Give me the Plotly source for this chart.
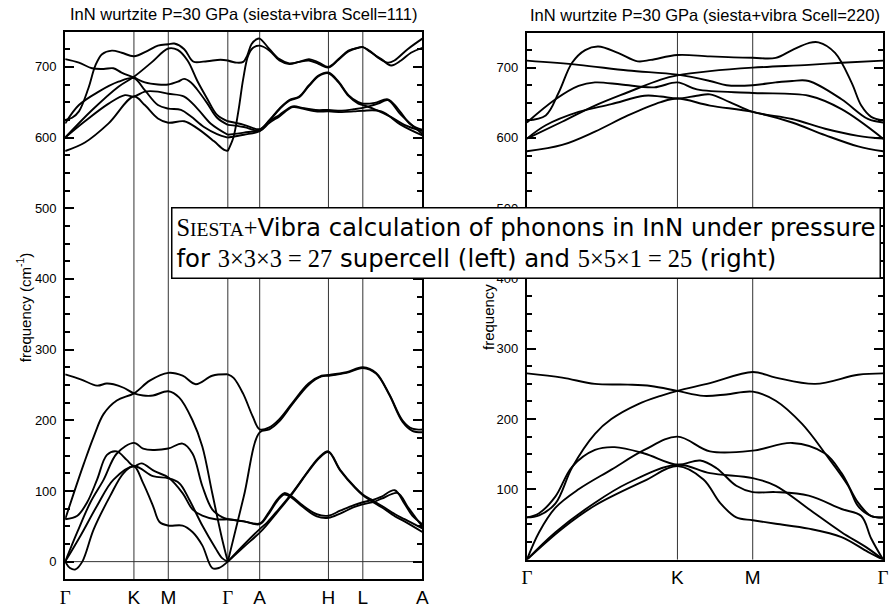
import plotly.graph_objects as go

# ---------------- data ----------------
left_tick_k = [0.0, 1.0, 1.5, 2.366, 2.830, 3.830, 4.330, 5.196]
left_tick_text = ["Γ", "K", "M", "Γ", "A", "H", "L", "A"]
right_tick_k = [0.0, 1.0, 1.5, 2.366]
right_tick_text = ["Γ", "K", "M", "Γ"]
left_freq_ticks = [0, 100, 200, 300, 400, 500, 600, 700]
right_freq_ticks = [100, 200, 300, 400, 500, 600, 700]

left_title = "InN wurtzite P=30 GPa (siesta+vibra Scell=111)"
right_title = "InN wurtzite P=30 GPa (siesta+vibra Scell=220)"
y_title = "frequency (cm<sup>-1</sup>)"

# Left panel, Γ-K-M-Γ, optical bands (k, frequency)
lgh1 = [(0, 711), (0.2, 706), (0.39, 698), (0.56, 697), (0.70, 698), (0.82, 692), (1.0, 685), (1.16, 678), (1.35, 675), (1.5, 675), (1.64, 679), (1.73, 683), (1.83, 678), (1.92, 668), (2.07, 648), (2.21, 628), (2.366, 618)]
lgh2 = [(0, 625), (0.1, 628), (0.2, 637), (0.335, 669), (0.44, 702), (0.536, 718), (0.68, 723), (0.823, 720), (1.0, 715), (1.205, 723), (1.349, 730), (1.5, 732), (1.588, 733), (1.732, 725), (1.827, 711), (1.875, 707), (2.066, 708), (2.258, 710), (2.366, 709)]
lgh3 = [(0, 600), (0.392, 639), (0.775, 672), (1.0, 686), (1.253, 706), (1.5, 726), (1.636, 724), (1.78, 709), (1.923, 680), (2.066, 655), (2.21, 632), (2.366, 623)]
lgh4 = [(0, 620), (0.2, 646), (0.488, 665), (0.775, 679), (1.0, 684), (1.158, 667), (1.349, 646), (1.5, 641), (1.684, 639), (1.827, 630), (2.019, 615), (2.21, 605), (2.366, 600)]
lgh5 = [(0, 600), (0.287, 623), (0.632, 648), (0.87, 660), (1.0, 658), (1.158, 665), (1.349, 665), (1.5, 662), (1.732, 658), (1.923, 641), (2.115, 620), (2.366, 604)]
lgh6 = [(0, 581), (0.287, 593), (0.632, 620), (1.0, 658), (1.158, 646), (1.349, 627), (1.5, 621), (1.732, 623), (1.923, 613), (2.162, 595), (2.306, 583), (2.366, 581)]

# Left panel, Γ-K-M-Γ, acoustic / low optical bands
lgl1 = [(0, 265), (0.225, 258), (0.464, 249), (0.60, 252), (0.703, 251), (0.85, 246), (1.0, 238), (1.134, 235), (1.277, 235), (1.5, 241), (1.66, 232), (1.852, 200), (1.995, 163), (2.139, 97), (2.283, 32), (2.366, 0)]
lgl2 = [(0, 60), (0.129, 98), (0.273, 139), (0.416, 177), (0.56, 209), (0.751, 228), (1.0, 238), (1.23, 256), (1.5, 267), (1.708, 263), (1.9, 251), (2.139, 263), (2.366, 265)]
lgl3 = [(0, 60), (0.177, 65), (0.32, 84), (0.464, 116), (0.608, 151), (0.751, 156), (0.895, 144), (1.0, 135), (1.11, 139), (1.3, 128), (1.5, 119), (1.708, 97), (1.852, 74), (1.995, 65), (2.187, 60), (2.366, 60)]
lgl4 = [(0, 0), (0.177, 42), (0.368, 84), (0.56, 116), (0.751, 153), (1.0, 168), (1.134, 160), (1.277, 158), (1.5, 160), (1.708, 167), (1.852, 153), (1.995, 107), (2.139, 74), (2.283, 63), (2.366, 60)]
lgl5 = [(0, 0), (0.225, 37), (0.464, 79), (0.703, 116), (1.0, 135), (1.277, 121), (1.5, 118), (1.66, 111), (1.804, 88), (1.995, 51), (2.187, 19), (2.283, 5), (2.366, 0)]
lgl6 = [(0, 0), (0.07, -9), (0.15, -11), (0.249, 0), (0.416, 46), (0.655, 93), (0.847, 125), (1.0, 135), (1.134, 111), (1.277, 79), (1.373, 56), (1.5, 51), (1.708, 51), (1.852, 42), (1.995, 23), (2.139, -9), (2.235, -9), (2.366, 0)]

# Left panel, Γ-A-H-L-A, optical bands
lah1 = [(2.366, 709), (2.495, 706), (2.59, 707), (2.648, 716), (2.71, 732), (2.782, 739), (2.83, 740), (2.973, 725), (3.117, 711), (3.26, 705), (3.404, 707), (3.547, 711), (3.691, 706), (3.83, 700), (3.977, 711), (4.121, 723), (4.264, 727), (4.33, 728), (4.44, 722), (4.551, 713), (4.695, 706), (4.79, 709), (4.982, 725), (5.196, 740)]
lah2 = [(2.366, 581), (2.447, 600), (2.519, 637), (2.59, 683), (2.662, 716), (2.734, 727), (2.83, 730), (2.973, 723), (3.117, 709), (3.26, 704), (3.404, 707), (3.547, 709), (3.691, 704), (3.83, 699), (3.977, 710), (4.121, 722), (4.264, 727), (4.33, 728), (4.44, 721), (4.599, 711), (4.743, 702), (4.886, 709), (5.03, 720), (5.196, 727)]
lah3 = [(2.366, 623), (2.6, 618), (2.83, 612), (2.973, 625), (3.117, 641), (3.26, 653), (3.404, 658), (3.547, 674), (3.691, 688), (3.83, 692), (3.977, 679), (4.121, 660), (4.264, 650), (4.33, 648), (4.503, 649), (4.695, 654), (4.838, 641), (5.03, 618), (5.196, 611)]
lah4 = [(2.366, 618), (2.6, 615), (2.83, 610), (2.973, 624), (3.117, 640), (3.26, 652), (3.404, 657), (3.547, 673), (3.691, 687), (3.83, 691), (3.977, 678), (4.121, 659), (4.264, 648), (4.33, 646), (4.503, 640), (4.743, 629), (4.934, 618), (5.196, 609)]
lah5 = [(2.366, 604), (2.6, 607), (2.83, 611), (2.973, 623), (3.117, 632), (3.308, 644), (3.452, 642), (3.643, 639), (3.83, 639), (4.025, 638), (4.2, 640), (4.33, 642), (4.551, 648), (4.695, 653), (4.886, 632), (5.196, 605)]
lah6 = [(2.366, 600), (2.6, 604), (2.83, 609), (2.973, 621), (3.117, 630), (3.308, 643), (3.452, 641), (3.643, 637), (3.83, 637), (4.025, 636), (4.2, 637), (4.33, 638), (4.599, 637), (4.886, 618), (5.196, 603)]

# Left panel, Γ-A-H-L-A, acoustic / low optical bands
lal1 = [(2.366, 265), (2.45, 260), (2.587, 238), (2.73, 205), (2.83, 187), (2.97, 190), (3.11, 201), (3.30, 224), (3.54, 252), (3.73, 263), (3.83, 264), (4.092, 268), (4.33, 275), (4.523, 267), (4.715, 237), (4.906, 200), (5.05, 188), (5.196, 187)]
lal2 = [(2.366, 0), (2.598, 92), (2.83, 183), (2.97, 187), (3.11, 198), (3.30, 222), (3.54, 250), (3.73, 262), (3.83, 263), (4.092, 267), (4.33, 274), (4.523, 266), (4.715, 236), (4.906, 198), (5.05, 185), (5.196, 183)]
lal3 = [(2.366, 60), (2.6, 57), (2.83, 54), (2.95, 68), (3.087, 88), (3.189, 97), (3.3, 92), (3.45, 80), (3.661, 67), (3.83, 65), (4.0, 72), (4.2, 80), (4.33, 84), (4.5, 88), (4.603, 92), (4.794, 101), (4.937, 82), (5.05, 65), (5.196, 53)]
lal4 = [(2.366, 60), (2.6, 57), (2.83, 53), (2.95, 66), (3.087, 86), (3.189, 95), (3.3, 90), (3.45, 78), (3.661, 64), (3.83, 62), (4.0, 68), (4.2, 77), (4.33, 81), (4.5, 85), (4.603, 89), (4.838, 97), (4.98, 78), (5.1, 62), (5.196, 50)]
lal5 = [(2.366, 0), (2.6, 24), (2.83, 46), (2.943, 56), (3.07, 70), (3.31, 98), (3.548, 130), (3.7, 148), (3.83, 156), (4.0, 130), (4.22, 105), (4.33, 95), (4.45, 88), (4.603, 79), (4.8, 67), (4.937, 60), (5.196, 47)]
lal6 = [(2.366, 0), (2.6, 21), (2.83, 41), (2.943, 53), (3.07, 68), (3.31, 97), (3.548, 129), (3.7, 147), (3.83, 155), (4.0, 129), (4.22, 104), (4.33, 94), (4.45, 86), (4.603, 77), (4.8, 64), (4.937, 57), (5.196, 42)]

# Right panel, Γ-K-M-Γ, optical bands
rh1 = [(0, 710), (0.343, 704), (0.671, 696), (1.0, 690), (1.216, 681), (1.326, 675), (1.5, 675), (1.653, 679), (1.762, 681), (1.872, 681), (2.09, 655), (2.265, 627), (2.366, 622)]
rh2 = [(0, 625), (0.125, 632), (0.212, 665), (0.3, 707), (0.387, 725), (0.474, 730), (0.605, 721), (0.736, 709), (0.823, 711), (1.0, 718), (1.216, 716), (1.5, 714), (1.653, 714), (1.762, 725), (1.872, 735), (1.937, 736), (2.047, 721), (2.156, 679), (2.221, 646), (2.287, 630), (2.366, 625)]
rh3 = [(0, 622), (0.19, 655), (0.343, 674), (0.452, 679), (0.627, 676), (0.845, 672), (1.0, 679), (1.129, 669), (1.5, 664), (1.872, 660), (2.09, 641), (2.366, 599)]
rh4 = [(0, 599), (0.234, 623), (0.452, 646), (0.671, 665), (0.889, 683), (1.0, 689), (1.216, 695), (1.5, 700), (1.872, 704), (2.09, 707), (2.366, 710)]
rh5 = [(0, 599), (0.125, 618), (0.343, 637), (0.561, 648), (0.78, 660), (0.889, 659), (1.0, 656), (1.129, 660), (1.216, 662), (1.347, 651), (1.5, 637), (1.762, 627), (1.981, 613), (2.2, 603), (2.366, 599)]
rh6 = [(0, 581), (0.234, 590), (0.452, 609), (0.671, 632), (0.889, 651), (1.0, 656), (1.216, 646), (1.5, 637), (1.762, 622), (1.981, 604), (2.2, 588), (2.366, 581)]

# Right panel, Γ-K-M-Γ, acoustic / low optical bands
rl1 = [(0, 265), (0.234, 259), (0.452, 250), (0.671, 249), (0.823, 247), (1.0, 240), (1.173, 233), (1.326, 235), (1.5, 239), (1.653, 226), (1.828, 193), (1.981, 151), (2.134, 105), (2.2, 76), (2.287, 62), (2.366, 60)]
rl2 = [(0, 60), (0.081, 63), (0.19, 80), (0.3, 131), (0.452, 179), (0.561, 200), (0.736, 221), (0.889, 233), (1.0, 240), (1.216, 251), (1.5, 267), (1.653, 259), (1.915, 250), (2.2, 263), (2.366, 265)]
rl3 = [(0, 60), (0.081, 66), (0.19, 90), (0.3, 132), (0.452, 156), (0.583, 160), (0.78, 151), (1.0, 135), (1.151, 141), (1.26, 130), (1.391, 105), (1.5, 96), (1.653, 96), (1.872, 91), (2.09, 72), (2.221, 62), (2.287, 30), (2.366, 0)]
rl4 = [(0, 0), (0.081, 39), (0.19, 74), (0.343, 100), (0.561, 128), (0.78, 156), (1.0, 175), (1.216, 154), (1.5, 155), (1.762, 166), (1.981, 151), (2.09, 123), (2.2, 81), (2.287, 62), (2.366, 60)]
rl5 = [(0, 0), (0.19, 39), (0.452, 81), (0.671, 109), (1.0, 135), (1.216, 123), (1.5, 116), (1.653, 105), (1.872, 72), (2.09, 39), (2.265, 16), (2.366, 0)]
rl6 = [(0, 0), (0.234, 44), (0.452, 77), (0.78, 112), (1.0, 133), (1.173, 114), (1.282, 81), (1.391, 60), (1.5, 56), (1.653, 51), (1.872, 44), (2.09, 32), (2.265, 11), (2.366, 0)]

box_line1 = ("<span style='font-family:Liberation Serif'>S<span style='font-size:19.5px'>IESTA</span>+</span>"
             "Vibra calculation of phonons in InN under pressure")
box_line2 = ("for <span style='font-family:Liberation Serif'>3×3×3 = 27</span> supercell (left) and "
             "<span style='font-family:Liberation Serif'>5×5×1 = 25</span> (right)")

# ---------------- figure ----------------
W, H = 896, 608
SANS = "Liberation Sans, Arial, sans-serif"
SERIF_G = "<span style='font-family:Liberation Serif'>Γ</span>"

fig = go.Figure()

left_bands = [lgh1, lgh2, lgh3, lgh4, lgh5, lgh6, lgl1, lgl2, lgl3, lgl4, lgl5, lgl6,
              lah1, lah2, lah3, lah4, lah5, lah6, lal1, lal2, lal3, lal4, lal5, lal6]
right_bands = [rh1, rh2, rh3, rh4, rh5, rh6, rl1, rl2, rl3, rl4, rl5, rl6]

for band in left_bands:
    fig.add_trace(go.Scatter(x=[p[0] for p in band], y=[p[1] for p in band], mode="lines",
                             line=dict(color="black", width=1.9, shape="spline", smoothing=1.0),
                             xaxis="x", yaxis="y", hoverinfo="skip", showlegend=False))
for band in right_bands:
    fig.add_trace(go.Scatter(x=[p[0] for p in band], y=[p[1] for p in band], mode="lines",
                             line=dict(color="black", width=1.9, shape="spline", smoothing=1.0),
                             xaxis="x2", yaxis="y2", hoverinfo="skip", showlegend=False))

shapes = []
for k in left_tick_k[1:-1]:
    shapes.append(dict(type="line", xref="x", yref="y domain", x0=k, x1=k, y0=0, y1=1,
                       line=dict(color="#333333", width=1), layer="below"))
for k in right_tick_k[1:-1]:
    shapes.append(dict(type="line", xref="x2", yref="y2 domain", x0=k, x1=k, y0=0, y1=1,
                       line=dict(color="#333333", width=1), layer="below"))
shapes.append(dict(type="line", xref="x domain", yref="y", x0=0, x1=1, y0=0, y1=0,
                   line=dict(color="#333333", width=1), layer="below"))

common = dict(showgrid=False, zeroline=False, showline=True, linecolor="black", linewidth=2)
yextra = dict(ticks="inside", ticklen=9, tickwidth=1.5, tickcolor="black", mirror="ticks",
              minor=dict(ticks="inside", ticklen=5, tickwidth=1.5, tickcolor="black",
                         dtick=25, tick0=0, showgrid=False),
              ticklabelstandoff=4,
              tickfont=dict(size=13, family=SANS, color="black"), tickmode="array")
xextra = dict(ticks="", mirror=True, tickmode="array",
              tickfont=dict(size=19, family=SANS, color="black"))


def tick_labels(texts):
    return [SERIF_G if t == "Γ" else t for t in texts]


fig.update_layout(
    width=W, height=H, margin=dict(l=0, r=0, t=0, b=0),
    paper_bgcolor="white", plot_bgcolor="white",
    xaxis=dict(domain=[61 / W, 423 / W], range=[0, left_tick_k[-1]], tickvals=left_tick_k,
               ticktext=tick_labels(left_tick_text), anchor="y", **common, **xextra),
    yaxis=dict(domain=[1 - 588 / H, 1 - 32 / H], range=[-25, 750], tickvals=left_freq_ticks,
               anchor="x", **common, **yextra),
    xaxis2=dict(domain=[529 / W, 890 / W], range=[0, right_tick_k[-1]], tickvals=right_tick_k,
                ticktext=tick_labels(right_tick_text), anchor="y2", **common, **xextra),
    yaxis2=dict(domain=[1 - 568 / H, 1 - 33 / H], range=[0, 750], tickvals=right_freq_ticks,
                anchor="x2", **common, **yextra),
    shapes=shapes,
    annotations=[
        dict(text=left_title, xref="paper", yref="paper", x=242 / W, y=1 - 14 / H,
             xanchor="center", yanchor="middle", showarrow=False,
             font=dict(size=16.5, family=SANS, color="black")),
        dict(text=right_title, xref="paper", yref="paper", x=710 / W, y=1 - 15 / H,
             xanchor="center", yanchor="middle", showarrow=False,
             font=dict(size=16.5, family=SANS, color="black")),
        dict(text=y_title, xref="paper", yref="paper", x=19 / W, y=1 - 312 / H, textangle=-90,
             xanchor="center", yanchor="middle", showarrow=False,
             font=dict(size=15, family=SANS, color="black")),
        dict(text=y_title, xref="paper", yref="paper", x=489 / W, y=1 - 300 / H, textangle=-90,
             xanchor="center", yanchor="middle", showarrow=False,
             font=dict(size=15, family=SANS, color="black")),
        dict(text=box_line1 + "<br>" + box_line2, xref="paper", yref="paper",
             x=168 / W, y=1 - 247 / H, xanchor="left", yanchor="middle", align="left",
             showarrow=False, bgcolor="white", bordercolor="black", borderwidth=1.5, borderpad=4,
             font=dict(size=24.4, family="DejaVu Sans", color="black")),
    ],
)

fig.write_html("out.html")
